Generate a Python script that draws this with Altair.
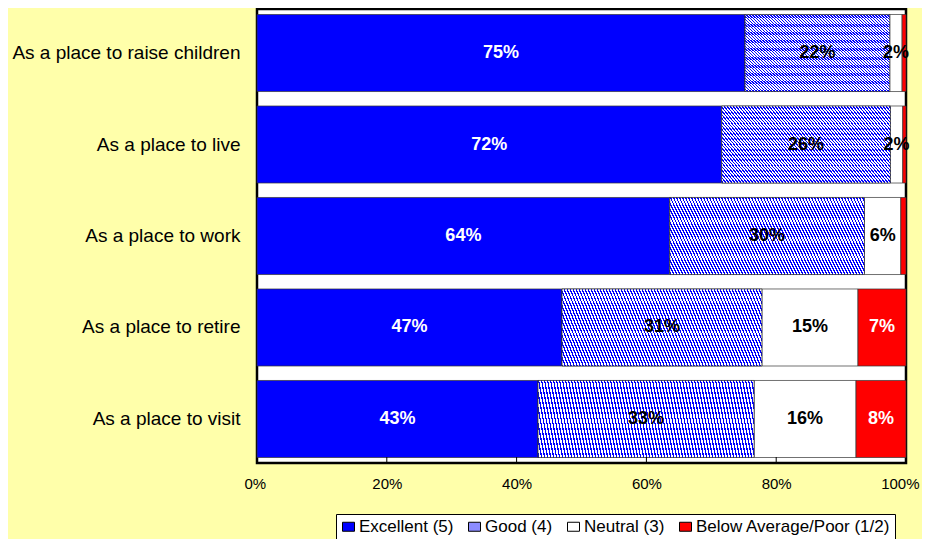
import altair as alt
import pandas as pd

categories = ["As a place to raise children", "As a place to live", "As a place to work",
              "As a place to retire", "As a place to visit"]
segments = ["Excellent (5)", "Good (4)", "Neutral (3)", "Below Average/Poor (1/2)"]
excellent = [75.2, 71.6, 63.6, 47.0, 43.3]
good = [22.3, 26.0, 30.0, 30.8, 33.3]
neutral = [1.9, 1.9, 5.6, 14.8, 15.7]
poor = [0.6, 0.5, 0.8, 7.4, 7.7]
x_ticks = [0, 20, 40, 60, 80, 100]
colors = ["#0000FF", "#8C8CFF", "#FFFFFF", "#FF0000"]

rows = []
for i, c in enumerate(categories):
    start = 0.0
    for j, vals in enumerate([excellent, good, neutral, poor]):
        v = vals[i]
        rows.append(dict(cat=c, seg=segments[j], order=j, value=v, start=start,
                         end=start + v, mid=start + v / 2, label=f"{round(v)}%"))
        start += v
df = pd.DataFrame(rows)

W, H = 649, 454
FONT = "Liberation Sans"
P_IN, P_OUT = 0.158, 0.06


def hatch_for(width_px, period=3.0, frac=0.45):
    """45-degree '/' stripes. Vega fills gradients through a square pattern tile
    (slice-fit to the bar), so the gradient lives in a width x width square."""
    n = 2.0 * width_px / period
    stops = []
    k = 0
    while k / n < 1:
        a = k / n
        b = min(1.0, (k + frac) / n)
        e = min(1.0, (k + 1) / n)
        stops += [{"offset": a, "color": "#0000FF"}, {"offset": b, "color": "#0000FF"},
                  {"offset": b, "color": "#FFFFFF"}, {"offset": e, "color": "#FFFFFF"}]
        k += 1
    return {"gradient": "linear", "x1": 0, "y1": 0, "x2": 1, "y2": 1, "stops": stops}


x_axis = alt.Axis(title=None, values=x_ticks, labelExpr="datum.value + '%'",
                  ticks=False, domain=False, grid=False, labelPadding=13,
                  labelFlush=True, labelFlushOffset=13,
                  labelFontSize=15, labelFont=FONT, labelColor="black")
y_axis = alt.Axis(title=None, ticks=False, domain=False, labelPadding=17,
                  labelFontSize=19, labelFont=FONT, labelColor="black", labelLimit=400)
x_scale = alt.Scale(domain=[0, 100], nice=False)
y_scale = alt.Scale(paddingInner=P_IN, paddingOuter=P_OUT)


def Y():
    return alt.Y("cat:N", sort=categories, scale=y_scale, axis=y_axis)


def X(field):
    return alt.X(field, scale=x_scale, axis=x_axis)


base = alt.Chart(df)

bars = base.mark_bar(stroke="#333333", strokeWidth=0.7).encode(
    x=X("start:Q"),
    x2="end:Q",
    y=Y(),
    color=alt.Color("seg:N", sort=segments,
                    scale=alt.Scale(domain=segments, range=colors),
                    legend=alt.Legend(title=None, orient="none", legendX=79, legendY=505,
                                      direction="horizontal", columns=4,
                                      symbolType="M-1,-0.75H1V0.75H-1Z", symbolSize=144,
                                      symbolStrokeColor="black", symbolStrokeWidth=1,
                                      labelFontSize=17, labelFont=FONT, labelColor="black",
                                      labelLimit=400,
                                      strokeColor="black", fillColor="white", padding=4,
                                      columnPadding=12, labelOffset=2, cornerRadius=0)),
)

hatch_layers = []
for i, c in enumerate(categories):
    g = hatch_for(good[i] / 100 * W)
    hatch_layers.append(
        base.transform_filter((alt.datum.seg == "Good (4)") & (alt.datum.cat == c))
        .mark_bar(fill=g, stroke="#333333", strokeWidth=0.7)
        .encode(x=X("start:Q"), x2="end:Q", y=Y())
    )

ticks = alt.Chart(pd.DataFrame({"t": x_ticks[1:-1]})).mark_rule(
    color="black", strokeWidth=1
).encode(
    x=X("t:Q"),
    y=alt.value(H - 6),
    y2=alt.value(H),
)

labels = base.transform_filter(alt.datum.value >= 1.5).mark_text(
    font=FONT, fontSize=18, fontWeight="bold"
).encode(
    x=X("mid:Q"),
    y=Y(),
    text="label:N",
    color=alt.condition("datum.order == 0 || datum.order == 3",
                        alt.value("white"), alt.value("black")),
)

chart = alt.layer(bars, *hatch_layers, ticks, labels).properties(
    width=W, height=H,
    padding={"left": 249, "top": 1, "right": 16, "bottom": 76},
    autosize=alt.AutoSizeParams(type="none"),
    background="#FFFFAA",
).configure_view(fill="white", stroke="black", strokeWidth=2.5)

chart.save("out.html", embed_options={"renderer": "svg", "actions": False})
